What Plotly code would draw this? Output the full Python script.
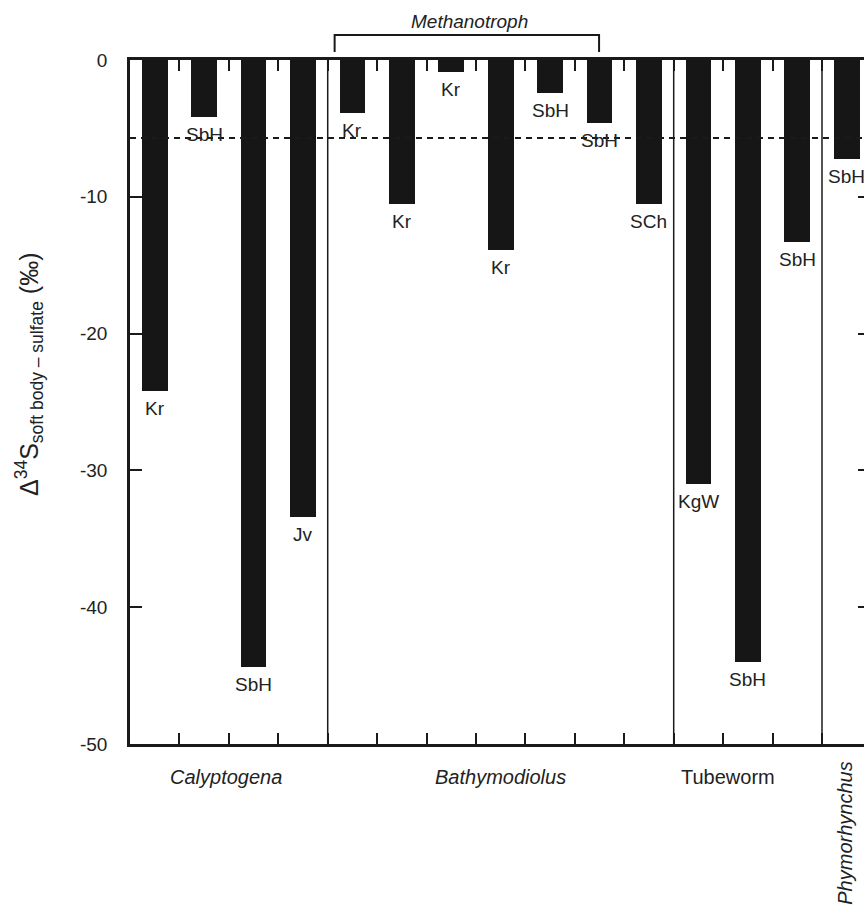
import plotly.graph_objects as go

# ---- data ----
bar_labels = ["Kr", "SbH", "SbH", "Jv",
              "Kr", "Kr", "Kr", "Kr", "SbH", "SbH", "SCh",
              "KgW", "SbH", "SbH",
              "SbH"]
bar_values = [-24.2, -4.2, -44.4, -33.4,
              -3.9, -10.5, -0.85, -13.9, -2.4, -4.6, -10.5,
              -31.0, -44.0, -13.3,
              -7.2]
group_names = ["<i>Calyptogena</i>", "<i>Bathymodiolus</i>", "Tubeworm", "<i>Phymorhynchus</i>"]
group_sizes = [4, 7, 3, 1]
sulfate_ref = -5.7
y_ticks = [0, -10, -20, -30, -40, -50]
y_ticktext = ["0", "-10", "-20", "-30", "-40", "-50"]
methanotroph_span = [4, 9]  # bar indices under the bracket

# ---- layout helpers ----
FONT = "Liberation Sans, Arial, Helvetica, sans-serif"
INK = "#1a1a1a"
x_idx = list(range(len(bar_values)))
x_range = [-0.5, 14.35]
boundaries = [i - 0.5 for i in range(1, len(bar_values) + 1)]
group_label_x = [1.45, 7.0, 11.6, 13.95]
PLOT_L, PLOT_W, PLOT_B, PLOT_H = 130, 734, 744, 684


def px_to_paper_x(px):
    return (px - PLOT_L) / PLOT_W


def px_to_paper_y(py):
    return (PLOT_B - py) / PLOT_H


fig = go.Figure()
fig.add_trace(go.Bar(x=x_idx, y=bar_values, width=0.52,
                     marker=dict(color="#161616", line=dict(width=0)),
                     hoverinfo="skip", showlegend=False))
# dashed sulfate reference line (on overlay axis so right-side ticks render)
fig.add_trace(go.Scatter(x=x_range, y=[sulfate_ref, sulfate_ref], yaxis="y2",
                         mode="lines", line=dict(color=INK, width=2, dash="6px,5px"),
                         hoverinfo="skip", showlegend=False))

shapes = []
# group separators
start = 0
for n in group_sizes[:-1]:
    start += n
    shapes.append(dict(type="line", xref="x", yref="y domain", x0=start - 0.5, x1=start - 0.5,
                       y0=0, y1=1, line=dict(color=INK, width=1.5)))
# methanotroph bracket
bx0 = methanotroph_span[0] - 0.36
bx1 = methanotroph_span[1] - 0.01
yt = px_to_paper_y(35)
yb = px_to_paper_y(52)
shapes.append(dict(type="path", xref="x", yref="paper",
                   path=f"M {bx0},{yb} L {bx0},{yt} L {bx1},{yt} L {bx1},{yb}",
                   line=dict(color=INK, width=2)))

annotations = []
for xi, v, lab in zip(x_idx, bar_values, bar_labels):
    annotations.append(dict(x=xi, y=v, xref="x", yref="y", text=lab, showarrow=False,
                            yanchor="top", xanchor="center", yshift=-5,
                            font=dict(family=FONT, size=19, color="#222")))
for name, gx in zip(group_names, group_label_x):
    if "Phymorhynchus" in name:
        annotations.append(dict(x=gx, y=-50, xref="x", yref="y", text=name, showarrow=False,
                                textangle=-90, yanchor="top", xanchor="center", yshift=-16,
                                font=dict(family=FONT, size=20, color="#222")))
    else:
        annotations.append(dict(x=gx, y=-50, xref="x", yref="y", text=name, showarrow=False,
                                yanchor="top", xanchor="center", yshift=-20,
                                font=dict(family=FONT, size=20, color="#222")))
annotations.append(dict(x=(bx0 + bx1) / 2 + 0.05, y=px_to_paper_y(22), xref="x", yref="paper",
                        text="<i>Methanotroph</i>", showarrow=False, yanchor="middle",
                        font=dict(family=FONT, size=19, color="#222")))
annotations.append(dict(x=px_to_paper_x(29), y=px_to_paper_y(374), xref="paper", yref="paper",
                        xanchor="center", yanchor="middle", textangle=-90, showarrow=False,
                        text="Δ<sup>34</sup>S<sub>soft body – sulfate</sub> (‰)",
                        font=dict(family=FONT, size=25, color="#222")))

fig.update_layout(
    width=864, height=912,
    margin=dict(l=130, r=0, t=60, b=168),
    paper_bgcolor="white", plot_bgcolor="white",
    font=dict(family=FONT, size=18, color="#222"),
    bargap=0,
    xaxis=dict(range=x_range, tickvals=boundaries, showticklabels=False,
               ticks="inside", ticklen=11, tickwidth=1.5, tickcolor=INK,
               showline=True, linecolor=INK, linewidth=2.5, mirror="ticks",
               showgrid=False, zeroline=False, fixedrange=True),
    yaxis=dict(range=[-50, 0], tickvals=y_ticks, ticktext=y_ticktext,
               ticks="inside", ticklen=12, tickwidth=1.5, tickcolor=INK,
               ticklabelstandoff=16,
               showline=True, linecolor=INK, linewidth=2.5,
               showgrid=False, zeroline=False, tickfont=dict(size=19)),
    yaxis2=dict(range=[-50, 0], overlaying="y", side="right",
                tickvals=y_ticks[1:-1], showticklabels=False,
                ticks="inside", ticklen=6, tickwidth=1.5, tickcolor=INK,
                showline=False, showgrid=False, zeroline=False),
    shapes=shapes,
    annotations=annotations,
)

fig.write_html("out.html")
